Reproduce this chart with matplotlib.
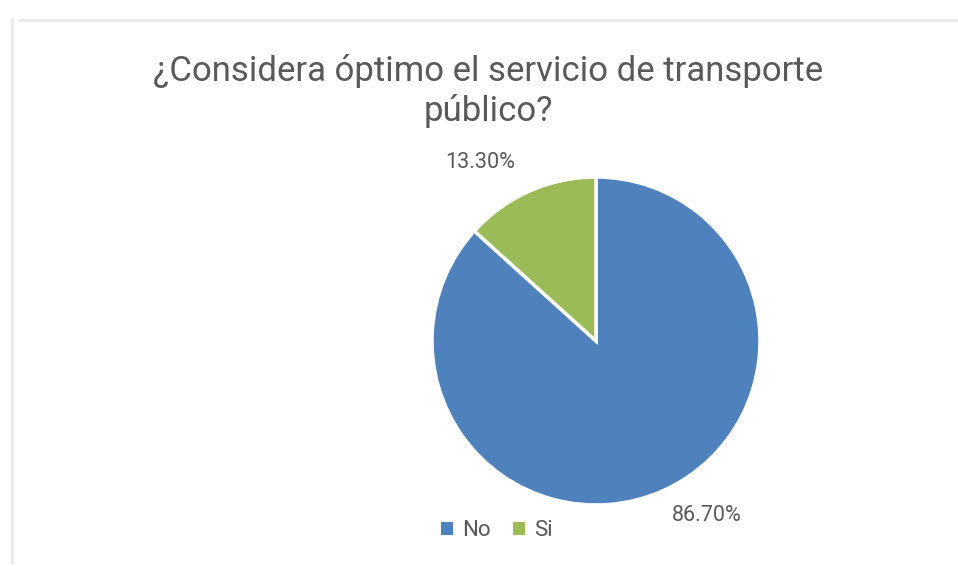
import matplotlib
matplotlib.use("Agg")
import matplotlib.pyplot as plt
from matplotlib.patches import Patch
from matplotlib.lines import Line2D

categories = ["No", "Si"]
values = [86.70, 13.30]
colors = ["#4F81BD", "#9BBB59"]
title = "¿Considera óptimo el servicio de transporte\npúblico?"

W, H = 958, 566
fig = plt.figure(figsize=(W / 100, H / 100), dpi=100)
fig.patch.set_facecolor("white")

# faint frame lines
fig.add_artist(Line2D([12 / W, 12 / W], [1 - 20 / H, 1 - 562 / H], color="#ebebeb", lw=2.5))
fig.add_artist(Line2D([20 / W, 1.0], [1 - 20 / H, 1 - 20 / H], color="#ebebeb", lw=2.5))

cx, cy, r = 596, 341, 164
ax = fig.add_axes([(cx - r) / W, (H - cy - r) / H, 2 * r / W, 2 * r / H])

wedges, _ = ax.pie(values, colors=colors, startangle=90, counterclock=False,
                   radius=1.0, center=(0, 0), frame=False,
                   wedgeprops=dict(edgecolor="white", linewidth=2.5))
ax.set_xlim(-1, 1)
ax.set_ylim(-1, 1)
ax.set_aspect("auto")
ax.axis("off")

txtc = "#595959"
font = "Roboto"
ax.text(-0.707, 1.09, f"{values[1]:.2f}%", ha="center", va="center",
        fontsize=15.5, color=txtc, family=font)
ax.text(0.677, -1.067, f"{values[0]:.2f}%", ha="center", va="center",
        fontsize=15.5, color=txtc, family=font)

fig.text(488 / W, 1 - 91 / H, title, ha="center", va="center", fontsize=25,
         color=txtc, family=font, fontweight="normal", linespacing=1.22)

handles = [Patch(facecolor=c, edgecolor="none") for c in colors]
leg = fig.legend(handles, categories, loc="center", bbox_to_anchor=(497 / W, 1 - 531 / H),
                 ncol=2, frameon=False, handlelength=0.55, handleheight=0.55,
                 handletextpad=0.4, columnspacing=1.0,
                 prop={"family": font, "size": 16})
for t in leg.get_texts():
    t.set_color(txtc)

fig.savefig("out.png", dpi=100, facecolor="white")
